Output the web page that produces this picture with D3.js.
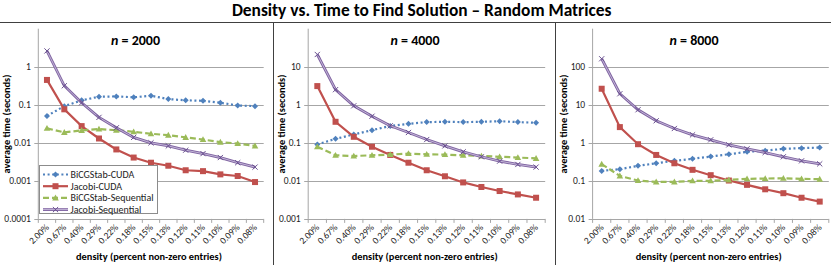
<!DOCTYPE html>
<html><head><meta charset="utf-8">
<script src="https://cdn.jsdelivr.net/npm/d3@7"></script>
<style>
html,body{margin:0;padding:0;background:#fff;}
svg{display:block;font-family:Carlito,Lato,"Liberation Sans",sans-serif;}
</style></head>
<body><svg id="c" width="831" height="265"></svg>
<script>
const categories = ["2.00%","0.67%","0.40%","0.29%","0.22%","0.18%","0.15%","0.13%","0.12%","0.11%","0.10%","0.09%","0.08%"];
const seriesNames = ["BiCGStab-CUDA","Jacobi-CUDA","BiCGStab-Sequential","Jacobi-Sequential"];
const panelTitles = ["2000","4000","8000"];

const bicgCuda2000  = [0.051,0.092,0.131,0.163,0.166,0.157,0.173,0.141,0.131,0.127,0.113,0.096,0.092];
const jacobiCuda2000= [0.45,0.076,0.0275,0.013,0.0067,0.0041,0.0030,0.0025,0.0019,0.0018,0.00148,0.00134,0.00093];
const bicgSeq2000   = [0.024,0.0188,0.0212,0.023,0.0215,0.0195,0.0173,0.0159,0.0139,0.0122,0.0104,0.0096,0.0083];
const jacobiSeq2000 = [2.6,0.316,0.113,0.0466,0.0248,0.0139,0.0100,0.0083,0.0064,0.0052,0.0041,0.0030,0.0023];

const bicgCuda4000  = [0.091,0.127,0.166,0.215,0.277,0.316,0.35,0.357,0.35,0.357,0.37,0.35,0.336];
const jacobiCuda4000= [3.1,0.357,0.144,0.079,0.048,0.030,0.019,0.0132,0.0091,0.0069,0.0054,0.0044,0.0036];
const bicgSeq4000   = [0.079,0.047,0.045,0.047,0.049,0.052,0.05,0.049,0.047,0.045,0.043,0.041,0.039];
const jacobiSeq4000 = [21,2.5,0.94,0.50,0.28,0.187,0.122,0.083,0.058,0.043,0.033,0.027,0.023];

const bicgCuda8000  = [0.183,0.203,0.248,0.29,0.336,0.38,0.436,0.5,0.58,0.62,0.695,0.725,0.75];
const jacobiCuda8000= [26.4,2.59,0.92,0.48,0.29,0.195,0.141,0.102,0.0785,0.06,0.0474,0.036,0.0285];
const bicgSeq8000   = [0.275,0.135,0.102,0.094,0.094,0.1,0.1,0.106,0.113,0.115,0.117,0.113,0.111];
const jacobiSeq8000 = [162,19.5,7.4,3.8,2.38,1.62,1.2,0.885,0.695,0.556,0.43,0.336,0.28];

const yTicks2000 = [1,0.1,0.01,0.001,0.0001];
const yTicks4000 = [10,1,0.1,0.01,0.001];
const yTicks8000 = [100,10,1,0.1,0.01];

const panels = [
  {title:panelTitles[0], data:[bicgCuda2000,jacobiCuda2000,bicgSeq2000,jacobiSeq2000], ticks:yTicks2000, domain:[0.0001,10],
   x0:38.3, x1:263.7, box:[-4,273], ytx:6, legend:true},
  {title:panelTitles[1], data:[bicgCuda4000,jacobiCuda4000,bicgSeq4000,jacobiSeq4000], ticks:yTicks4000, domain:[0.001,100],
   x0:308.2, x1:545.2, box:[273,555], ytx:281.5, legend:false},
  {title:panelTitles[2], data:[bicgCuda8000,jacobiCuda8000,bicgSeq8000,jacobiSeq8000], ticks:yTicks8000, domain:[0.01,1000],
   x0:592.6, x1:828.8, box:[555,831], ytx:563, legend:false}
];

const colors = ["#4F81BD","#C0504D","#9BBB59","#8064A2"];
const dashes = ["2,2.6", null, "6,3", null];
const yTop = 28.7, yBot = 218.9;
const gridColor = "#A6A6A6";

const svg = d3.select("#c");

function fit(sel, target){
  const w = sel.node().getComputedTextLength();
  const fs = parseFloat(sel.attr("font-size"));
  sel.attr("font-size", (fs*target/w).toFixed(2));
}

// title
const t = svg.append("text").attr("x",421.7).attr("y",15.5).attr("text-anchor","middle")
  .attr("font-size",15).attr("font-weight","bold").attr("fill","#000")
  .text("Density vs. Time to Find Solution \u2013 Random Matrices");
fit(t,380);

// frame
svg.append("line").attr("x1",0).attr("x2",831).attr("y1",22.5).attr("y2",22.5).attr("stroke","#404040").attr("stroke-width",1);
[273,555].forEach(x=>svg.append("line").attr("x1",x+0.5).attr("x2",x+0.5).attr("y1",22.5).attr("y2",265).attr("stroke","#404040").attr("stroke-width",1));

function purpleLine(g, d){
  g.append("path").attr("d",d).attr("fill","none").attr("stroke","#8064A2").attr("stroke-width",2.8);
  g.append("path").attr("d",d).attr("fill","none").attr("stroke","#C9BEDC").attr("stroke-width",0.9);
}

function marker(g, type, x, y, c){
  if(type===0){ // diamond
    g.append("path").attr("d",`M${x},${y-3}L${x+3},${y}L${x},${y+3}L${x-3},${y}Z`).attr("fill",c);
  } else if(type===1){ // square
    g.append("rect").attr("x",x-3).attr("y",y-3).attr("width",6).attr("height",6).attr("fill",c);
  } else if(type===2){ // triangle
    g.append("path").attr("d",`M${x},${y-3.3}L${x+3.3},${y+2.5}L${x-3.3},${y+2.5}Z`).attr("fill",c);
  } else { // x
    g.append("path").attr("d",`M${x-2.6},${y-2.6}L${x+2.6},${y+2.6}M${x-2.6},${y+2.6}L${x+2.6},${y-2.6}`)
      .attr("stroke","#6A5190").attr("stroke-width",1).attr("fill","none");
  }
}

panels.forEach(p=>{
  const g = svg.append("g");
  const x = d3.scaleBand().domain(categories).range([p.x0,p.x1]);
  const y = d3.scaleLog().domain(p.domain).range([yBot,yTop]);
  const cx = d => x(d)+x.bandwidth()/2;

  // gridlines
  g.selectAll(".grid").data(p.ticks.slice(0,-1)).join("line")
    .attr("x1",p.x0-4).attr("x2",p.x1).attr("y1",d=>Math.round(y(d))+0.5).attr("y2",d=>Math.round(y(d))+0.5)
    .attr("stroke",gridColor).attr("stroke-width",1);
  // axes
  g.append("line").attr("x1",p.x0).attr("x2",p.x0).attr("y1",yTop).attr("y2",yBot).attr("stroke",gridColor);
  g.append("line").attr("x1",p.x0-4).attr("x2",p.x1).attr("y1",Math.round(yBot)+0.5).attr("y2",Math.round(yBot)+0.5).attr("stroke",gridColor);
  // x ticks at band boundaries
  const bounds = categories.map(c=>x(c)).concat([p.x1]);
  g.selectAll(".xt").data(bounds).join("line")
    .attr("x1",d=>d).attr("x2",d=>d).attr("y1",yBot).attr("y2",yBot+4).attr("stroke",gridColor);
  // y tick labels
  g.selectAll(".yl").data(p.ticks).join("text")
    .attr("x",p.x0-7.5).attr("y",d=>y(d)).attr("dy","0.35em").attr("text-anchor","end")
    .attr("font-size",9.5).attr("fill","#222").text(d=> d<0.001 ? "0.0001" : d3.format("~g")(d));
  // x tick labels
  g.selectAll(".xl").data(categories).join("text")
    .attr("transform",d=>`translate(${cx(d)+2.5},${yBot+9}) rotate(-45)`)
    .attr("text-anchor","end").attr("font-size",9.5).attr("fill","#222").text(d=>d);
  // panel title
  const tt = g.append("text").attr("x",(p.box[0]+p.box[1])/2+1).attr("y",44.5).attr("text-anchor","middle")
    .attr("font-size",13).attr("font-weight","bold");
  tt.append("tspan").attr("font-style","italic").text("n");
  tt.append("tspan").text(" = "+p.title);
  fit(tt,49);
  // y axis title
  const yt = g.append("text").attr("transform",`translate(${p.ytx},124) rotate(-90)`).attr("dy","0.35em")
    .attr("text-anchor","middle").attr("font-size",10).attr("font-weight","bold").text("average time (seconds)");
  fit(yt,99);
  // x axis title
  const xt = g.append("text").attr("x",(p.x0+p.x1)/2-2).attr("y",260).attr("text-anchor","middle")
    .attr("font-size",10).attr("font-weight","bold").text("density (percent non-zero entries)");
  fit(xt,146);

  // series
  p.data.forEach((vals,si)=>{
    const pts = vals.map((v,i)=>[cx(categories[i]), y(v)]);
    const line = d3.line();
    if(si===3){
      purpleLine(g, line(pts));
    } else {
      const pth = g.append("path").attr("d",line(pts)).attr("fill","none").attr("stroke",colors[si]).attr("stroke-width",2.2);
      if(dashes[si]) pth.attr("stroke-dasharray",dashes[si]);
    }
    pts.forEach(pt=>marker(g,si,pt[0],pt[1],colors[si]));
  });

  if(p.legend){
    const lg = g.append("g");
    lg.append("rect").attr("x",39.5).attr("y",165.5).attr("width",118).attr("height",48)
      .attr("fill","#fff").attr("stroke","#8C8C8C");
    seriesNames.forEach((nm,i)=>{
      const ly = 174.5 + i*11.7;
      const ld = `M43,${ly}L68,${ly}`;
      if(i===3){
        purpleLine(lg, ld);
      } else {
        const l = lg.append("path").attr("d",ld).attr("stroke",colors[i]).attr("stroke-width",2.2).attr("fill","none");
        if(dashes[i]) l.attr("stroke-dasharray",dashes[i]);
      }
      marker(lg,i,55.5,ly,colors[i]);
      const tx = lg.append("text").attr("x",70.5).attr("y",ly).attr("dy","0.35em").attr("font-size",10).attr("fill","#222").text(nm);
      if(i===2) fit(tx,83);
    });
  }
});
</script></body></html>
